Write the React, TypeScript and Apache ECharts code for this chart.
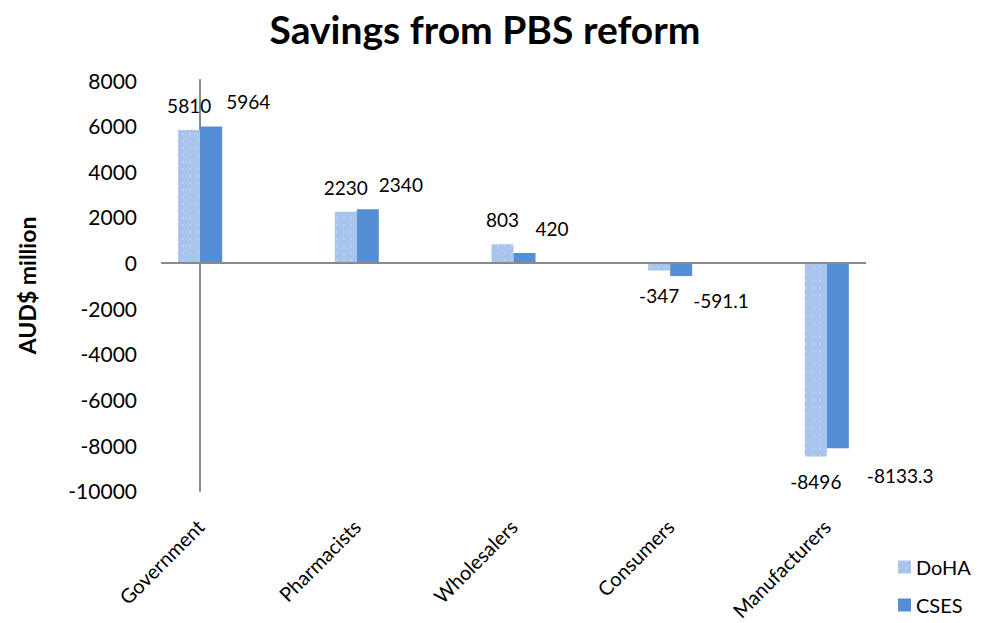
import React, { useEffect, useRef } from "react";
import * as echarts from "echarts";

const TITLE = "Savings from PBS reform";
const Y_AXIS_NAME = "AUD$ million";
const CATEGORIES = ["Government", "Pharmacists", "Wholesalers", "Consumers", "Manufacturers"];
const SERIES_NAMES = ["DoHA", "CSES"];
const DOHA = [5810, 2230, 803, -347, -8496];
const CSES = [5964, 2340, 420, -591.1, -8133.3];
const Y_MIN = -10000;
const Y_MAX = 8000;
const Y_STEP = 2000;

const FONT = "Lato, 'Open Sans', sans-serif";
const CSES_LABEL_DX = [15, 11, 11, 12, 29];

export default function App() {
  const ref = useRef<HTMLDivElement>(null);
  useEffect(() => {
    if (!ref.current) return;
    const chart = echarts.init(ref.current, undefined, { renderer: "svg" });
    const idx = CATEGORIES.map((_, i) => i);

    const dohaData = DOHA.map((v, i) => ({
      value: [idx[i], v],
      label: { position: v >= 0 ? "top" : "bottom" },
    }));
    const csesData = CSES.map((v, i) => ({
      value: [idx[i], v],
      label: {
        position: v >= 0 ? "top" : "bottom",
        align: "left",
        offset: [CSES_LABEL_DX[i], i === 4 ? 3 : 0],
      },
    }));

    const labelCommon = {
      show: true,
      distance: 15,
      color: "#000",
      fontFamily: FONT,
      fontSize: 19,
    };

    chart.setOption({
      animation: false,
      textStyle: { fontFamily: FONT },
      title: {
        text: TITLE,
        left: 480,
        top: 4,
        textAlign: "center",
        textStyle: { fontFamily: FONT, fontSize: 39, fontWeight: "bold", color: "#000" },
      },
      legend: {
        orient: "vertical",
        left: 893,
        top: 552,
        itemWidth: 13,
        itemHeight: 13,
        itemGap: 18,
        icon: "rect",
        textStyle: { fontFamily: FONT, fontSize: 20, color: "#000" },
        data: SERIES_NAMES,
      },
      grid: { left: 161, right: 121, top: 80, bottom: 130, containLabel: false },
      xAxis: {
        type: "value",
        min: -0.25,
        max: 4.25,
        axisLine: { show: false },
        axisTick: { show: false },
        splitLine: { show: false },
        axisLabel: {
          customValues: idx,
          formatter: (v: number) => CATEGORIES[Math.round(v)] ?? "",
          rotate: 45,
          margin: 32,
          fontSize: 20,
          fontFamily: FONT,
          color: "#000",
        },
      },
      yAxis: {
        type: "value",
        min: Y_MIN,
        max: Y_MAX,
        interval: Y_STEP,
        name: Y_AXIS_NAME,
        nameLocation: "middle",
        nameGap: 123,
        nameTextStyle: { fontFamily: FONT, fontSize: 23, fontWeight: "bold", color: "#000" },
        axisLine: { show: true, lineStyle: { color: "#898989", width: 2 } },
        axisTick: { show: false },
        splitLine: { show: false },
        axisLabel: {
          margin: 24,
          fontSize: 21,
          fontFamily: FONT,
          color: "#000",
          formatter: (v: number) => String(v),
        },
      },
      series: [
        {
          name: SERIES_NAMES[0],
          type: "bar",
          barWidth: 22,
          barGap: "0%",
          itemStyle: {
            color: "#a9c4ec",
            decal: {
              symbol: "rect",
              symbolSize: 0.6,
              color: "rgba(255,255,255,0.75)",
              dashArrayX: [2, 5],
              dashArrayY: [2, 5],
              rotation: 0,
            },
          },
          label: labelCommon,
          data: dohaData,
          markLine: {
            silent: true,
            symbol: "none",
            label: { show: false },
            lineStyle: { color: "#898989", width: 2, type: "solid" },
            data: [{ yAxis: 0 }],
          },
        },
        {
          name: SERIES_NAMES[1],
          type: "bar",
          barWidth: 22,
          barGap: "0%",
          itemStyle: { color: "#558ed5" },
          label: labelCommon,
          data: csesData,
        },
      ],
    });
    return () => chart.dispose();
  }, []);
  return (
    <div
      ref={ref}
      style={{ position: "fixed", left: 0, top: 0, width: 987, height: 623, background: "#fff" }}
    />
  );
}
